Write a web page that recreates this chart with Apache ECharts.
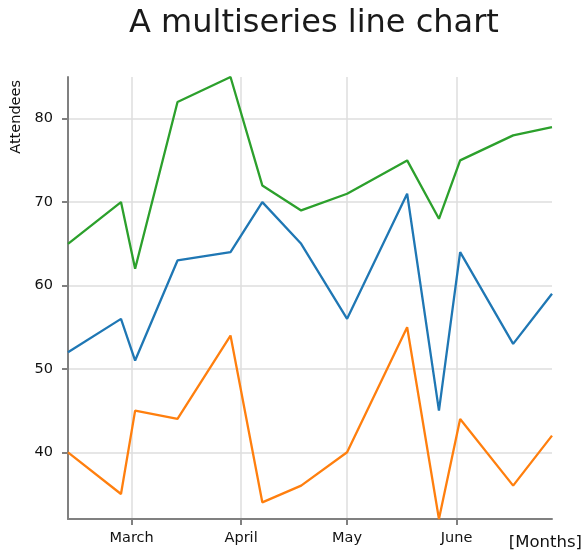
<!DOCTYPE html>
<html>
<head>
<meta charset="utf-8">
<script src="https://cdn.jsdelivr.net/npm/echarts@6/dist/echarts.min.js"></script>
<style>html,body{margin:0;padding:0;background:#fff;}#c{width:582px;height:554px;}</style>
</head>
<body>
<div id="c"></div>
<script>
var dates = ['2013-02-11','2013-02-26','2013-03-02','2013-03-14','2013-03-29','2013-04-07','2013-04-18','2013-05-01','2013-05-18','2013-05-27','2013-06-02','2013-06-17','2013-06-28'];
var seriesA = [52, 56, 51, 63, 64, 70, 65, 56, 71, 45, 64, 53, 59];
var seriesB = [40, 35, 45, 44, 54, 34, 36, 40, 55, 32, 44, 36, 42];
var seriesC = [65, 70, 62, 82, 85, 72, 69, 71, 75, 68, 75, 78, 79];
var monthTicks = ['2013-03-01','2013-04-01','2013-05-01','2013-06-01'];
var monthNames = ['March','April','May','June'];
var yTicks = [40, 50, 60, 70, 80];

function ts(s){ var p = s.split('-'); return Date.UTC(+p[0], +p[1]-1, +p[2]); }
function pairs(vals){ return dates.map(function(d,i){ return [ts(d), vals[i]]; }); }
var monthTs = monthTicks.map(ts);
var allVals = seriesA.concat(seriesB, seriesC);

var chart = echarts.init(document.getElementById('c'), null, {renderer:'canvas'});
var font = 'DejaVu Sans';
var axisColor = '#808080';
var gridColor = '#dedede';
chart.setOption({
  animation: false,
  title: {
    text: 'A multiseries line chart',
    left: 124, top: 3,
    textStyle: {fontFamily: font, fontSize: 32, fontWeight: 'normal', color: '#1a1a1a'}
  },
  grid: {left: 68, right: 30, top: 77, bottom: 35, containLabel: false},
  xAxis: {
    type: 'value',
    min: ts(dates[0]), max: ts(dates[dates.length-1]),
    axisLine: {show: true, lineStyle: {color: axisColor, width: 2}},
    axisTick: {show: true, length: 6, lineStyle: {color: axisColor, width: 2}, customValues: monthTs},
    axisLabel: {
      customValues: monthTs,
      fontFamily: font, fontSize: 14.5, color: '#111', margin: 12,
      formatter: function(v){ var i = monthTs.indexOf(v); return i >= 0 ? monthNames[i] : ''; }
    },
    splitLine: {show: true, lineStyle: {color: gridColor, width: 1.5}}
  },
  yAxis: {
    type: 'value',
    min: Math.min.apply(null, allVals), max: Math.max.apply(null, allVals),
    axisLine: {show: true, lineStyle: {color: axisColor, width: 2}},
    axisTick: {show: true, length: 6, lineStyle: {color: axisColor, width: 2}, customValues: yTicks},
    axisLabel: {customValues: yTicks, fontFamily: font, fontSize: 14.5, color: '#111', margin: 15},
    splitLine: {show: true, lineStyle: {color: gridColor, width: 1.5}}
  },
  graphic: [
    {type: 'text', left: 9, top: 80, rotation: Math.PI/2, style: {text: 'Attendees', font: '14.5px "DejaVu Sans"', fill: '#111', textAlign: 'right', textVerticalAlign: 'top'}},
    {type: 'text', right: 0, top: 534, style: {text: '[Months]', font: '16.5px "DejaVu Sans"', fill: '#111'}}
  ],
  series: [
    {type: 'line', data: pairs(seriesA), showSymbol: false, lineStyle: {color: '#1f77b4', width: 2.3}, itemStyle: {color: '#1f77b4'}},
    {type: 'line', data: pairs(seriesB), showSymbol: false, lineStyle: {color: '#ff7f0e', width: 2.3}, itemStyle: {color: '#ff7f0e'}},
    {type: 'line', data: pairs(seriesC), showSymbol: false, lineStyle: {color: '#2ca02c', width: 2.3}, itemStyle: {color: '#2ca02c'}}
  ]
});
</script>
</body>
</html>
